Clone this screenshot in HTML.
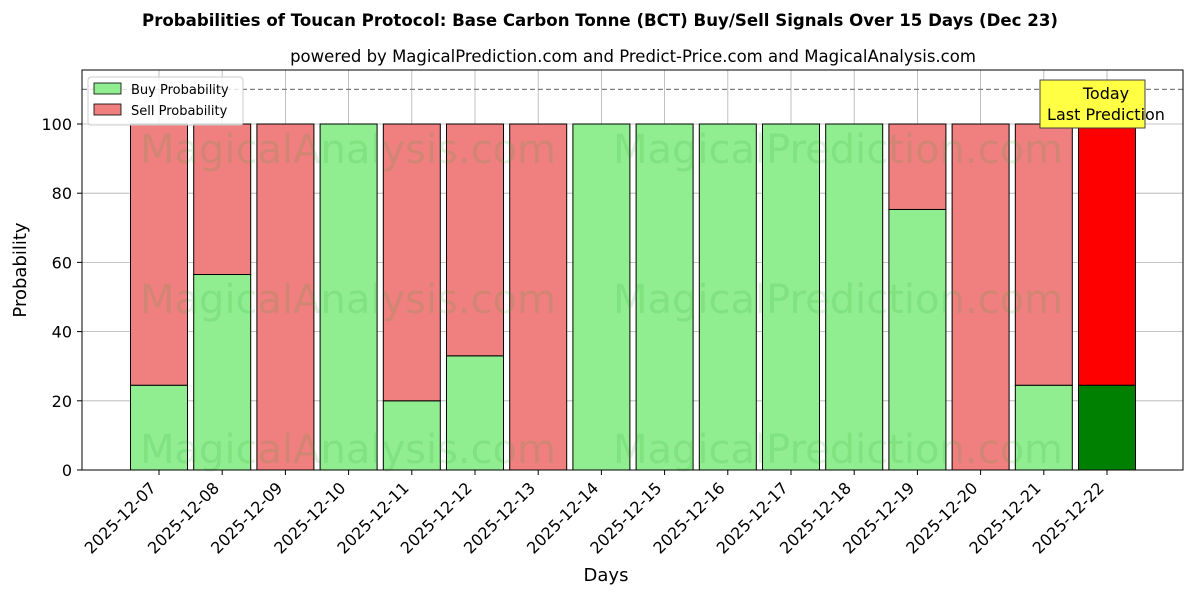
<!DOCTYPE html>
<html><head><meta charset="utf-8"><style>
body{margin:0;background:#fff;font-family:"DejaVu Sans","Liberation Sans",sans-serif;}
svg text{font-family:"DejaVu Sans","Liberation Sans",sans-serif;}
</style></head><body>
<svg id="c" width="1200" height="600" xmlns="http://www.w3.org/2000/svg">
<rect width="1200" height="600" fill="#fff"/>
<text x="600" y="26" text-anchor="middle" font-size="16.6" font-weight="bold">Probabilities of Toucan Protocol: Base Carbon Tonne (BCT) Buy/Sell Signals Over 15 Days (Dec 23)</text>
<text x="633" y="62" text-anchor="middle" font-size="16.5">powered by MagicalPrediction.com and Predict-Price.com and MagicalAnalysis.com</text>
<g id="grid"></g>
<g id="bars"></g>
<g id="wm" fill="#2ca02c" fill-opacity="0.15" font-size="40">
<text x="348" y="163" text-anchor="middle">MagicalAnalysis.com</text>
<text x="838" y="163" text-anchor="middle">MagicalPrediction.com</text>
<text x="348" y="313" text-anchor="middle">MagicalAnalysis.com</text>
<text x="838" y="313" text-anchor="middle">MagicalPrediction.com</text>
<text x="348" y="463" text-anchor="middle">MagicalAnalysis.com</text>
<text x="838" y="463" text-anchor="middle">MagicalPrediction.com</text>
</g>
<line x1="82" x2="1183" y1="89.4" y2="89.4" stroke="#808080" stroke-width="1.2" stroke-dasharray="5,3"/>
<rect x="82" y="70" width="1101" height="400" fill="none" stroke="#000" stroke-width="1"/>
<g id="axes"></g>
<g>
<rect x="1040" y="80" width="105" height="48" fill="#ffff44" stroke="#444" stroke-width="1"/>
<text x="1106" y="99" text-anchor="middle" font-size="16">Today</text>
<text x="1106" y="120" text-anchor="middle" font-size="16">Last Prediction</text>
</g>
<g>
<rect x="88" y="77" width="155" height="48" fill="#fff" fill-opacity="0.8" stroke="#ccc" rx="3"/>
<rect x="94" y="83" width="27" height="11" fill="#90ee90" stroke="#000" stroke-width="0.8"/>
<text x="131" y="94" font-size="13">Buy Probability</text>
<rect x="94" y="104" width="27" height="11" fill="#f08080" stroke="#000" stroke-width="0.8"/>
<text x="131" y="115" font-size="13">Sell Probability</text>
</g>
<text x="606" y="581" text-anchor="middle" font-size="18">Days</text>
<text transform="translate(26,270) rotate(-90)" text-anchor="middle" font-size="18">Probability</text>
</svg>
<script>
const days=["2025-12-07","2025-12-08","2025-12-09","2025-12-10","2025-12-11","2025-12-12","2025-12-13","2025-12-14","2025-12-15","2025-12-16","2025-12-17","2025-12-18","2025-12-19","2025-12-20","2025-12-21","2025-12-22"];
const buy=[24.5,56.5,0,100,20,33,0,100,100,100,100,100,75.3,0,24.5,24.5];
const yTicks=[0,20,40,60,80,100];
const NS="http://www.w3.org/2000/svg";
const y=v=>470-v*3.46;
const x=i=>159+i*63.2;
const bw=57;
function mk(t,a,p){const e=document.createElementNS(NS,t);for(const k in a)e.setAttribute(k,a[k]);p.appendChild(e);return e;}
const grid=document.getElementById('grid'),bars=document.getElementById('bars'),axes=document.getElementById('axes');
yTicks.forEach(v=>{
 const g=mk('line',{x1:82,x2:1183,y1:y(v),y2:y(v),stroke:'#b0b0b0','stroke-width':0.8},grid);
 
 
 mk('line',{x1:77,x2:82,y1:y(v),y2:y(v),stroke:'#000'},axes);
 const t=mk('text',{x:72,y:y(v)+6,'text-anchor':'end','font-size':16},axes);t.textContent=v;
 
 
});
days.forEach((d,i)=>{
 const cx=x(i);
 const g=mk('line',{x1:cx,x2:cx,y1:70,y2:470,stroke:'#b0b0b0','stroke-width':0.8},grid);
 
 
 const last=i===days.length-1;
 const b=mk('rect',{x:cx-bw/2,y:y(buy[i]),width:bw,height:buy[i]*3.46,fill:last?'#008000':'#90ee90',stroke:'#000','stroke-width':1},bars);
 
 
 const s=mk('rect',{x:cx-bw/2,y:y(100),width:bw,height:(100-buy[i])*3.46,fill:last?'#ff0000':'#f08080',stroke:'#000','stroke-width':1},bars);
 
 
 mk('line',{x1:cx,x2:cx,y1:470,y2:475,stroke:'#000'},axes);
 const tx=cx-2, ty=489;
 const t=mk('text',{x:tx,y:ty,'text-anchor':'end','font-size':16,transform:`rotate(-45 ${tx} ${ty})`},axes);t.textContent=d;
 
 
});
</script>
</body></html>
